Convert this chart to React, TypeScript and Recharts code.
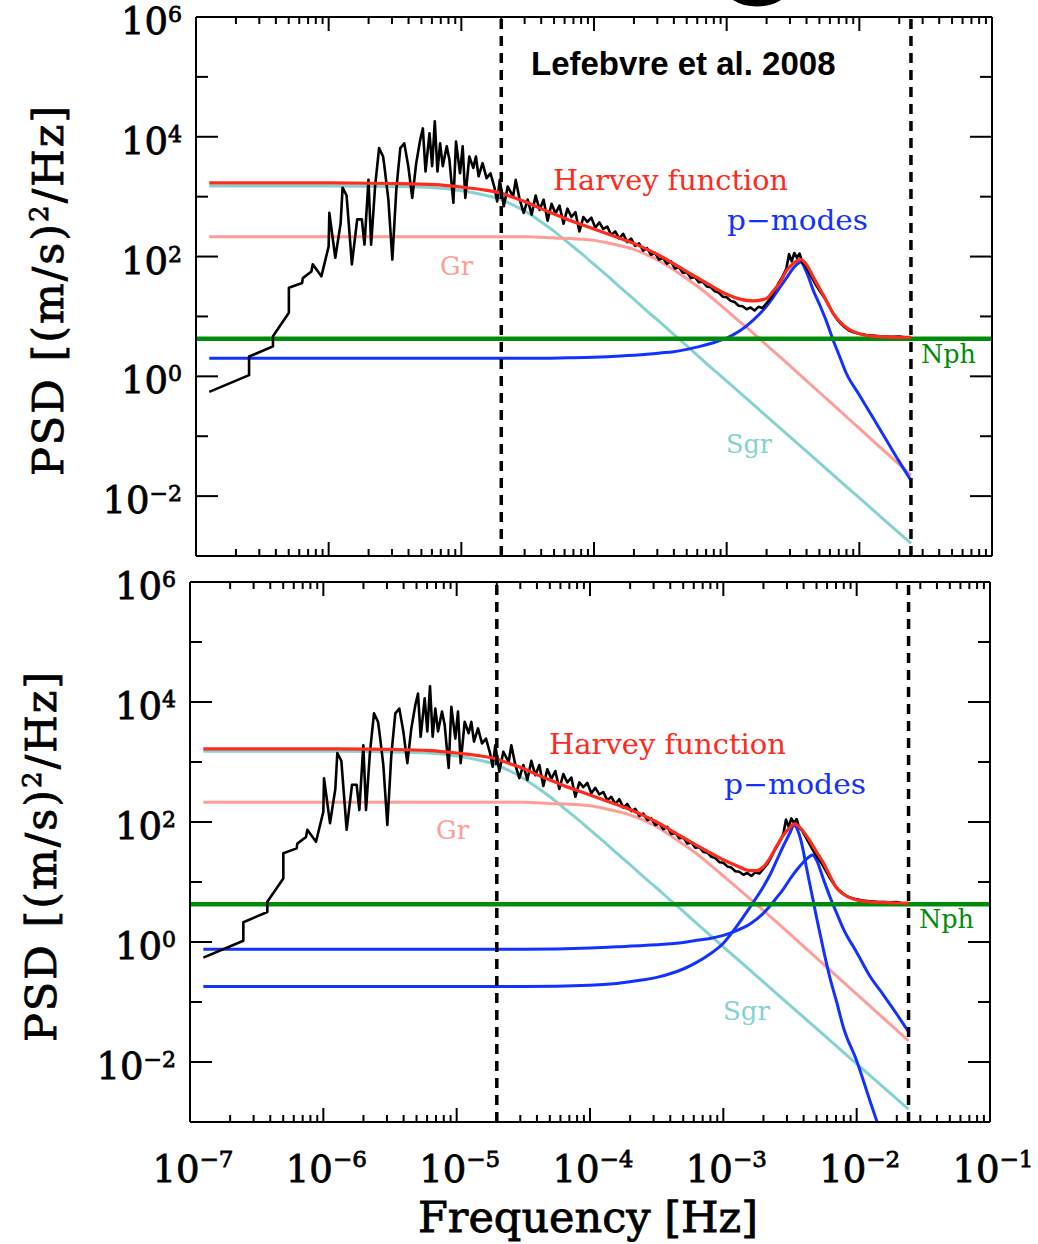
import React from 'react';
import { LineChart, Line, XAxis, YAxis, ReferenceLine } from 'recharts';

type Pair = [number, number];

const SERIF = '"DejaVu Serif", serif';
const SANS = '"Liberation Sans", Arial, sans-serif';

const BLACK = '#000000';
const RED = '#ff2b1c';
const PINK = '#ff9d99';
const CYAN = '#84d3d0';
const BLUE = '#1432ff';
const GREEN = '#008c0a';

// axes
const xDecades = [1e-7, 1e-6, 1e-5, 1e-4, 1e-3, 1e-2, 1e-1];
const xMinorSteps = [2, 3, 4, 5, 6, 7, 8, 9];
const yEvenTicks = [1e-2, 1, 1e2, 1e4, 1e6];
const yOddTicks = [1e-1, 1e1, 1e3, 1e5];
const cutoffFreqs = [2e-5, 0.0245];
const photonNoise = 4.25;

// all curves below are [log10 frequency (Hz), log10 PSD]
const psdObserved: Pair[] = [
  [-6.9, -0.26], [-6.6, 0.02], [-6.6, 0.33], [-6.42, 0.5], [-6.42, 0.67], [-6.3, 1.06], [-6.3, 1.48],
  [-6.2, 1.56], [-6.195, 1.64], [-6.13, 1.75], [-6.12, 1.87], [-6.055, 1.67], [-6.0, 2.17], [-5.995, 2.73],
  [-5.95, 1.98], [-5.91, 2.55], [-5.895, 3.15], [-5.865, 3.02], [-5.825, 1.87], [-5.785, 2.62], [-5.75, 2.62],
  [-5.73, 2.2], [-5.7, 3.28], [-5.68, 2.2], [-5.65, 3.17], [-5.62, 3.81], [-5.59, 3.67], [-5.58, 3.51],
  [-5.55, 2.95], [-5.52, 1.95], [-5.49, 3.12], [-5.46, 3.81], [-5.43, 3.89], [-5.4, 3.51], [-5.37, 2.98],
  [-5.34, 3.56], [-5.31, 3.95], [-5.29, 4.14], [-5.27, 3.42], [-5.24, 4.06], [-5.22, 3.51], [-5.2, 4.26],
  [-5.18, 3.42], [-5.16, 3.89], [-5.14, 3.51], [-5.11, 3.84], [-5.09, 3.62], [-5.06, 2.9], [-5.04, 3.92],
  [-5.01, 3.39], [-4.99, 3.84], [-4.97, 2.98], [-4.94, 3.67], [-4.91, 3.48], [-4.89, 3.67], [-4.87, 3.34],
  [-4.84, 3.56], [-4.81, 3.31], [-4.78, 3.39], [-4.75, 3.15], [-4.73, 2.92], [-4.71, 3.28], [-4.68, 2.84],
  [-4.65, 3.17], [-4.61, 3.0], [-4.59, 3.28], [-4.56, 2.95], [-4.53, 2.73],
  [-4.5, 2.95], [-4.47, 2.7], [-4.44, 3.02], [-4.41, 2.78], [-4.38, 2.95], [-4.35, 2.6], [-4.32, 2.88],
  [-4.29, 2.72], [-4.26, 2.85], [-4.23, 2.55], [-4.2, 2.8], [-4.17, 2.66], [-4.14, 2.74], [-4.11, 2.42],
  [-4.08, 2.66], [-4.05, 2.58], [-4.02, 2.65], [-3.99, 2.48], [-3.96, 2.57], [-3.93, 2.46], [-3.9, 2.5],
  [-3.87, 2.36], [-3.84, 2.42], [-3.81, 2.3], [-3.78, 2.38], [-3.75, 2.24], [-3.72, 2.3], [-3.69, 2.18],
  [-3.66, 2.22], [-3.63, 2.1], [-3.6, 2.14], [-3.57, 2.03], [-3.54, 2.06], [-3.51, 1.95], [-3.48, 1.98],
  [-3.45, 1.88], [-3.42, 1.92], [-3.39, 1.8], [-3.36, 1.82], [-3.33, 1.73], [-3.3, 1.74], [-3.27, 1.64],
  [-3.24, 1.66], [-3.21, 1.57], [-3.18, 1.58], [-3.15, 1.5], [-3.12, 1.49], [-3.09, 1.42], [-3.06, 1.4],
  [-3.03, 1.33], [-3.0, 1.32], [-2.97, 1.26], [-2.94, 1.24], [-2.91, 1.18], [-2.88, 1.17], [-2.85, 1.12],
  [-2.82, 1.15], [-2.79, 1.1], [-2.76, 1.16], [-2.73, 1.14], [-2.7, 1.22], [-2.67, 1.3], [-2.64, 1.42],
  [-2.61, 1.55], [-2.58, 1.66], [-2.55, 1.8], [-2.53, 2.04], [-2.51, 1.92], [-2.49, 2.06], [-2.47, 1.98],
  [-2.45, 2.05], [-2.43, 1.9], [-2.41, 1.86], [-2.38, 1.74], [-2.35, 1.62], [-2.32, 1.5], [-2.29, 1.4],
  [-2.26, 1.3], [-2.23, 1.18], [-2.2, 1.06], [-2.17, 0.96], [-2.14, 0.88], [-2.11, 0.82], [-2.08, 0.77],
  [-2.05, 0.74], [-2.0, 0.71], [-1.95, 0.69], [-1.9, 0.68], [-1.85, 0.67], [-1.8, 0.665], [-1.75, 0.66],
  [-1.7, 0.665], [-1.67, 0.655],
];

const sgrCurve: Pair[] = [
  [-6.9, 3.18], [-6.0, 3.18], [-5.5, 3.17], [-5.2, 3.15], [-5.0, 3.1], [-4.85, 3.04], [-4.7, 2.95],
  [-4.6, 2.85], [-4.5, 2.73], [-4.4, 2.58], [-4.3, 2.42], [-4.2, 2.24], [-4.1, 2.06], [-4.0, 1.87],
  [-3.9, 1.68], [-3.8, 1.48], [-3.7, 1.29], [-3.6, 1.09], [-3.5, 0.9], [-3.4, 0.7], [-3.3, 0.51],
  [-3.2, 0.31], [-3.0, -0.08], [-2.8, -0.47], [-2.6, -0.86], [-2.4, -1.25], [-2.2, -1.64], [-2.0, -2.03],
  [-1.8, -2.42], [-1.61, -2.79],
];

const grCurve: Pair[] = [
  [-6.9, 2.33], [-5.0, 2.33], [-4.5, 2.33], [-4.3, 2.31], [-4.1, 2.29], [-4.0, 2.27], [-3.9, 2.23],
  [-3.8, 2.18], [-3.7, 2.12], [-3.6, 2.03], [-3.5, 1.92], [-3.4, 1.78], [-3.3, 1.63], [-3.2, 1.47],
  [-3.1, 1.29], [-3.0, 1.1], [-2.9, 0.91], [-2.8, 0.72], [-2.6, 0.33], [-2.4, -0.07], [-2.2, -0.47],
  [-2.0, -0.87], [-1.8, -1.27], [-1.61, -1.65],
];

const harveyTop: Pair[] = [
  [-6.9, 3.23], [-6.0, 3.23], [-5.5, 3.22], [-5.2, 3.2], [-5.0, 3.16], [-4.85, 3.12], [-4.7, 3.06],
  [-4.6, 2.98], [-4.5, 2.9], [-4.4, 2.8], [-4.3, 2.71], [-4.2, 2.62], [-4.1, 2.54], [-4.0, 2.46],
  [-3.9, 2.38], [-3.8, 2.3], [-3.7, 2.22], [-3.6, 2.12], [-3.5, 2.01], [-3.4, 1.88], [-3.3, 1.75],
  [-3.2, 1.62], [-3.1, 1.49], [-3.0, 1.37], [-2.9, 1.29], [-2.8, 1.26], [-2.7, 1.3], [-2.65, 1.42],
  [-2.6, 1.56], [-2.55, 1.76], [-2.5, 1.88], [-2.47, 1.93], [-2.44, 1.95], [-2.41, 1.9], [-2.38, 1.8],
  [-2.35, 1.67], [-2.3, 1.47], [-2.25, 1.27], [-2.2, 1.06], [-2.15, 0.92], [-2.1, 0.82], [-2.0, 0.71],
  [-1.9, 0.67], [-1.8, 0.66], [-1.7, 0.65], [-1.61, 0.65],
];

const harveyBottom: Pair[] = [
  [-6.9, 3.22], [-6.0, 3.22], [-5.5, 3.21], [-5.2, 3.19], [-5.0, 3.15], [-4.85, 3.11], [-4.7, 3.05],
  [-4.6, 2.97], [-4.5, 2.89], [-4.4, 2.79], [-4.3, 2.7], [-4.2, 2.61], [-4.1, 2.53], [-4.0, 2.45],
  [-3.9, 2.37], [-3.8, 2.29], [-3.7, 2.21], [-3.6, 2.11], [-3.5, 2.0], [-3.4, 1.87], [-3.3, 1.74],
  [-3.2, 1.61], [-3.1, 1.49], [-3.0, 1.37], [-2.9, 1.27], [-2.8, 1.19], [-2.75, 1.19], [-2.7, 1.25],
  [-2.65, 1.4], [-2.6, 1.6], [-2.55, 1.78], [-2.5, 1.91], [-2.47, 1.97], [-2.44, 1.94], [-2.41, 1.87],
  [-2.38, 1.78], [-2.35, 1.68], [-2.3, 1.5], [-2.25, 1.32], [-2.2, 1.1], [-2.15, 0.9], [-2.1, 0.8],
  [-2.0, 0.7], [-1.9, 0.67], [-1.8, 0.66], [-1.7, 0.65], [-1.61, 0.65],
];

const pmodeTop: Pair[] = [
  [-6.9, 0.3], [-4.5, 0.3], [-4.2, 0.31], [-4.0, 0.32], [-3.8, 0.34], [-3.6, 0.37], [-3.5, 0.39],
  [-3.4, 0.41], [-3.3, 0.45], [-3.2, 0.5], [-3.1, 0.56], [-3.0, 0.64], [-2.9, 0.76], [-2.8, 0.94],
  [-2.7, 1.17], [-2.65, 1.32], [-2.6, 1.48], [-2.55, 1.64], [-2.5, 1.8], [-2.47, 1.87], [-2.44, 1.91],
  [-2.41, 1.8], [-2.38, 1.64], [-2.35, 1.45], [-2.3, 1.2], [-2.25, 0.93], [-2.2, 0.62], [-2.15, 0.34],
  [-2.1, 0.06], [-2.0, -0.31], [-1.9, -0.68], [-1.8, -1.05], [-1.7, -1.42], [-1.61, -1.74],
];

const pmodeNarrow: Pair[] = [
  [-6.9, -0.74], [-4.5, -0.74], [-4.0, -0.72], [-3.8, -0.69], [-3.6, -0.63], [-3.5, -0.59], [-3.4, -0.53],
  [-3.3, -0.45], [-3.2, -0.34], [-3.1, -0.2], [-3.0, -0.02], [-2.9, 0.26], [-2.8, 0.58], [-2.7, 0.92],
  [-2.65, 1.12], [-2.6, 1.36], [-2.55, 1.6], [-2.5, 1.82], [-2.47, 1.95], [-2.44, 1.85], [-2.41, 1.62],
  [-2.38, 1.28], [-2.35, 0.95], [-2.3, 0.4], [-2.25, -0.12], [-2.2, -0.6], [-2.15, -1.0], [-2.1, -1.42],
  [-2.0, -1.98], [-1.9, -2.65], [-1.8, -3.3], [-1.7, -3.9],
];

const pmodeWide: Pair[] = [
  [-6.9, -0.12], [-4.5, -0.12], [-4.0, -0.1], [-3.8, -0.08], [-3.6, -0.06], [-3.4, -0.03], [-3.3, -0.01],
  [-3.2, 0.03], [-3.1, 0.06], [-3.0, 0.11], [-2.9, 0.19], [-2.8, 0.3], [-2.7, 0.48], [-2.65, 0.6],
  [-2.6, 0.74], [-2.55, 0.88], [-2.5, 1.05], [-2.45, 1.2], [-2.4, 1.33], [-2.35, 1.43], [-2.33, 1.45],
  [-2.3, 1.36], [-2.25, 1.05], [-2.2, 0.75], [-2.15, 0.48], [-2.1, 0.22], [-2.0, -0.17], [-1.9, -0.57],
  [-1.8, -0.88], [-1.7, -1.2], [-1.61, -1.5],
];

const toPts = (arr: Pair[]) => arr.map(([lf, lp]) => ({ f: 10 ** lf, p: 10 ** lp }));

const xTicks = [...xDecades, ...xDecades.slice(0, -1).flatMap(d => xMinorSteps.map(m => m * d))].sort((a, b) => a - b);
const yTicks = [...yEvenTicks, ...yOddTicks].sort((a, b) => a - b);

const isDecade = (v: number) => Math.abs(Math.log10(v) - Math.round(Math.log10(v))) < 1e-6;
const expText = (v: number) => {
  const e = Math.round(Math.log10(v));
  return e < 0 ? `\u2212${-e}` : `${e}`;
};

// slightly heavier than plain DejaVu Serif, like the IDL vector font
const heavy = { stroke: BLACK, strokeWidth: 0.8 };

const makeXTick = (side: 'top' | 'bottom', withLabels: boolean) => (props: any) => {
  const { x, y, payload } = props;
  const major = isDecade(payload.value);
  const len = major ? 14 : 7;
  const dir = side === 'bottom' ? -1 : 1;
  return (
    <g>
      <line x1={x} x2={x} y1={y} y2={y + dir * len} stroke={BLACK} strokeWidth={2} />
      {withLabels && major && (
        <text x={x + 3} y={y + 60} textAnchor="middle" fontFamily={SERIF} fontSize={37} fill={BLACK} {...heavy}>
          10<tspan dy={-15} fontSize={23}>{expText(payload.value)}</tspan>
        </text>
      )}
    </g>
  );
};

const makeYTick = (side: 'left' | 'right') => (props: any) => {
  const { x, y, payload } = props;
  const e = Math.round(Math.log10(payload.value));
  const major = e % 2 === 0;
  const len = major ? 22 : 12;
  const dir = side === 'left' ? 1 : -1;
  return (
    <g>
      <line x1={x} x2={x + dir * len} y1={y} y2={y} stroke={BLACK} strokeWidth={2} />
      {side === 'left' && major && (
        <text x={x - 14} y={y + 17} textAnchor="end" fontFamily={SERIF} fontSize={37} fill={BLACK} {...heavy}>
          10<tspan dy={-12} fontSize={22}>{expText(payload.value)}</tspan>
        </text>
      )}
    </g>
  );
};

const axisLine = { stroke: BLACK, strokeWidth: 2 };

interface PanelProps {
  top: number;
  height: number;
  margin: { top: number; left: number; right: number; bottom: number };
  harvey: Pair[];
  pmodes: Pair[][];
  showXLabels: boolean;
}

// axes are 1px thick, so margins are set 1px short of the plot box
const Panel = ({ top, height, margin, harvey, pmodes, showXLabels }: PanelProps) => (
  <div style={{ position: 'absolute', left: 0, top, width: 1038, height }}>
    <LineChart width={1038} height={height}
      margin={{ top: margin.top - 1, left: margin.left - 1, right: margin.right - 1, bottom: margin.bottom - 1 }}>
      <XAxis xAxisId="b" dataKey="f" type="number" scale="log" domain={[1e-7, 1e-1]} allowDataOverflow
        ticks={xTicks} interval={0} height={1} tickSize={0} tickMargin={0} tickLine={false}
        axisLine={axisLine} tick={makeXTick('bottom', showXLabels)} />
      <XAxis xAxisId="t" orientation="top" dataKey="f" type="number" scale="log" domain={[1e-7, 1e-1]} allowDataOverflow
        ticks={xTicks} interval={0} height={1} tickSize={0} tickMargin={0} tickLine={false}
        axisLine={axisLine} tick={makeXTick('top', false)} />
      <YAxis yAxisId="l" type="number" scale="log" domain={[1e-3, 1e6]} allowDataOverflow
        ticks={yTicks} interval={0} width={1} tickSize={0} tickMargin={0} tickLine={false}
        axisLine={axisLine} tick={makeYTick('left')} />
      <YAxis yAxisId="r" orientation="right" type="number" scale="log" domain={[1e-3, 1e6]} allowDataOverflow
        ticks={yTicks} interval={0} width={1} tickSize={0} tickMargin={0} tickLine={false}
        axisLine={axisLine} tick={makeYTick('right')} />

      <Line xAxisId="b" yAxisId="l" data={toPts(sgrCurve)} dataKey="p" type="monotone" stroke={CYAN}
        strokeWidth={3} dot={false} activeDot={false} isAnimationActive={false} />
      <Line xAxisId="b" yAxisId="l" data={toPts(grCurve)} dataKey="p" type="monotone" stroke={PINK}
        strokeWidth={3} dot={false} activeDot={false} isAnimationActive={false} />
      {pmodes.map((pm, i) => (
        <Line key={i} xAxisId="b" yAxisId="l" data={toPts(pm)} dataKey="p" type="monotone" stroke={BLUE}
          strokeWidth={3} dot={false} activeDot={false} isAnimationActive={false} />
      ))}
      <Line xAxisId="t" yAxisId="r" data={toPts(psdObserved)} dataKey="p" type="linear" stroke="none"
        dot={false} activeDot={false} isAnimationActive={false} legendType="none" />
      <ReferenceLine xAxisId="b" yAxisId="l" y={photonNoise} stroke={GREEN} strokeWidth={4.5} />
      <Line xAxisId="b" yAxisId="l" data={toPts(psdObserved)} dataKey="p" type="linear" stroke={BLACK}
        strokeWidth={2.6} strokeLinejoin="round" dot={false} activeDot={false} isAnimationActive={false} />
      <Line xAxisId="b" yAxisId="l" data={toPts(harvey)} dataKey="p" type="monotone" stroke={RED}
        strokeWidth={3.2} dot={false} activeDot={false} isAnimationActive={false} />
      {cutoffFreqs.map(f => (
        <ReferenceLine key={f} xAxisId="b" yAxisId="l" x={f} stroke={BLACK} strokeWidth={3.5} strokeDasharray="10 7" />
      ))}
    </LineChart>
  </div>
);

const Label = ({ x, y, text, color, size, width }: { x: number; y: number; text: string; color: string; size: number; width: number }) => (
  <text x={x} y={y} fill={color} fontFamily={SERIF} fontSize={size} textLength={width} lengthAdjust="spacingAndGlyphs">
    {text}
  </text>
);

const PsdTitle = ({ x, y }: { x: number; y: number }) => (
  <text transform={`translate(${x}, ${y}) rotate(-90)`} textAnchor="middle" fontFamily={SERIF} fontSize={43}
    letterSpacing={2} fill={BLACK} {...heavy}>
    PSD [(m/s)<tspan dy={-15} fontSize={26}>2</tspan><tspan dy={15}>/Hz]</tspan>
  </text>
);

export default function App() {
  return (
    <div style={{ position: 'absolute', left: 0, top: 0, width: 1038, height: 1244, background: '#fff', overflow: 'hidden' }}>
      <Panel top={0} height={575} margin={{ top: 17, left: 196, right: 46, bottom: 19 }}
        harvey={harveyTop} pmodes={[pmodeTop]} showXLabels={false} />
      <Panel top={555} height={689} margin={{ top: 27, left: 190, right: 48, bottom: 122 }}
        harvey={harveyBottom} pmodes={[pmodeNarrow, pmodeWide]} showXLabels />

      <svg width={1038} height={1244} style={{ position: 'absolute', left: 0, top: 0, pointerEvents: 'none' }}>
        <ellipse cx={757} cy={-17} rx={30} ry={19} fill="none" stroke={BLACK} strokeWidth={9} />
        <text x={531} y={75} fontFamily={SANS} fontWeight="bold" fontSize={33} fill={BLACK}>Lefebvre et al. 2008</text>

        <Label x={553} y={190} text="Harvey function" color={RED} size={27} width={235} />
        <Label x={727} y={230} text={'p\u2212modes'} color={BLUE} size={28} width={141} />
        <Label x={440} y={275} text="Gr" color={PINK} size={26} width={33} />
        <Label x={726} y={453} text="Sgr" color={CYAN} size={26} width={46} />
        <Label x={921} y={363} text="Nph" color={GREEN} size={26} width={55} />

        <Label x={549} y={754} text="Harvey function" color={RED} size={27} width={237} />
        <Label x={724} y={794} text={'p\u2212modes'} color={BLUE} size={28} width={142} />
        <Label x={436} y={839} text="Gr" color={PINK} size={26} width={33} />
        <Label x={723} y={1020} text="Sgr" color={CYAN} size={26} width={47} />
        <Label x={919} y={928} text="Nph" color={GREEN} size={26} width={55} />

        <PsdTitle x={63} y={290} />
        <PsdTitle x={56} y={856} />
        <text x={588} y={1232} textAnchor="middle" fontFamily={SERIF} fontSize={43} fill={BLACK} {...heavy}>
          Frequency [Hz]
        </text>
      </svg>
    </div>
  );
}
